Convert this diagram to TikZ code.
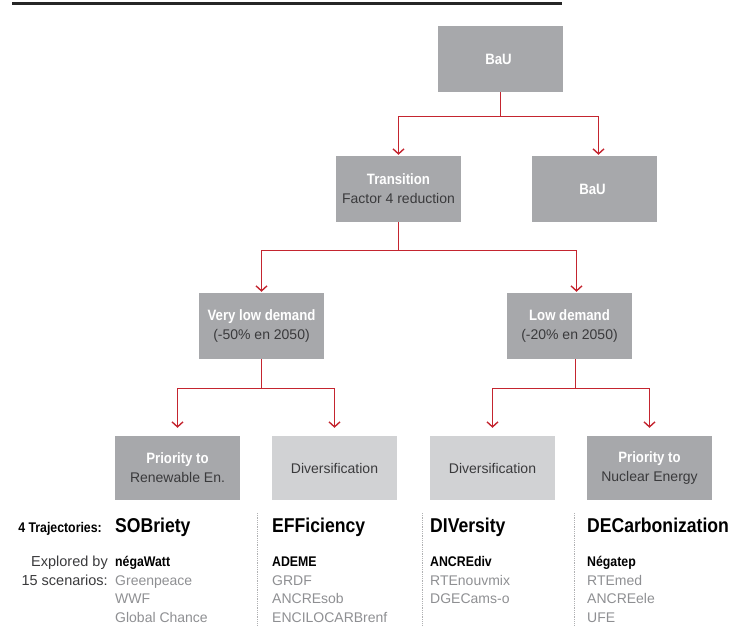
\documentclass[tikz,border=0pt]{standalone}
\usepackage{fontspec}
\setmainfont{Liberation Sans}[BoldFeatures={FakeStretch=0.88}]
\usetikzlibrary{arrows.meta}

\definecolor{boxDark}{HTML}{A7A8AB}
\definecolor{boxLight}{HTML}{D1D2D4}
\definecolor{arrowRed}{HTML}{C4252F}
\definecolor{textDark}{HTML}{3A3A3C}
\definecolor{textGray}{HTML}{8E8F92}

\newcommand{\boxTitle}[1]
{
    {\fontsize{15}{19}\selectfont\bfseries\color{white}#1}
}
\newcommand{\boxLabel}[2]
{
    \boxTitle{#1}\\{\color{textDark}#2}
}

\tikzset{
    stateBox/.style={minimum width=125pt, minimum height=66pt, inner sep=0pt,
        fill=boxDark, align=center, font=\fontsize{14}{19}\selectfont},
    leafBox/.style={stateBox, minimum height=64pt},
    conn/.style={draw=arrowRed, line width=1.4pt,
        -{Straight Barb[length=5pt,width=11pt]}},
    trajTitle/.style={anchor=base west, inner sep=0pt,
        font=\fontsize{20}{20}\selectfont\bfseries},
    scenBold/.style={anchor=base west, inner sep=0pt,
        font=\fontsize{14}{14}\selectfont\bfseries},
    scenGray/.style={anchor=base west, inner sep=0pt, text=textGray,
        font=\fontsize{14}{14}\selectfont},
    sideLabel/.style={anchor=base east, inner sep=0pt, text=textDark,
        font=\fontsize{14.5}{14.5}\selectfont}
}

\begin{document}
\begin{tikzpicture}[x=1pt, y=-1pt]

    \useasboundingbox (0,0) rectangle (750,625);

    %draws top rule
    \draw[line width=3pt, black!85] (12,3) -- (562,3);

    %draws boxes of the tree
    \node[stateBox] (bau) at (500.5,59) {\boxTitle{BaU}};
    \node[stateBox] (trans) at (398.5,189) {\boxLabel{Transition}{Factor 4 reduction}};
    \node[stateBox] (bauR) at (594.5,189) {\boxTitle{BaU}};
    \node[stateBox] (vlow) at (261.5,326) {\boxLabel{Very low demand}{(-50\% en 2050)}};
    \node[stateBox] (low) at (569.5,326) {\boxLabel{Low demand}{(-20\% en 2050)}};

    \node[leafBox] (prioRen) at (177.5,468) {\boxLabel{Priority to}{Renewable En.}};
    \node[leafBox, fill=boxLight, text=textDark] (divA) at (334.5,468) {Diversification};
    \node[leafBox, fill=boxLight, text=textDark] (divB) at (492.5,468) {Diversification};
    \node[leafBox] (prioNuc) at (649.5,468) {\boxLabel{Priority to}{Nuclear Energy}};

    %draws connectors
    \draw[conn, shorten >=1pt] (bau.south) -- ++(0,24) -| (trans.north);
    \draw[conn, shorten >=1pt] (bau.south) -- ++(0,24) -| ([xshift=4pt]bauR.north);
    \draw[conn, shorten >=1pt] (trans.south) -- ++(0,28) -| (vlow.north);
    \draw[conn, shorten >=1pt] (trans.south) -- ++(0,28) -| ([xshift=7pt]low.north);
    \draw[conn, shorten >=8pt] (vlow.south) -- ++(0,29) -| (prioRen.north);
    \draw[conn, shorten >=8pt] (vlow.south) -- ++(0,29) -| (divA.north);
    \draw[conn, shorten >=8pt] ([xshift=6pt]low.south) -- ++(0,29) -| (divB.north);
    \draw[conn, shorten >=8pt] ([xshift=6pt]low.south) -- ++(0,29) -| (prioNuc.north);

    %draws column separators
    \foreach \sx in {257,422,574}
        \draw[textGray!70, densely dotted, line width=0.8pt] (\sx,513) -- (\sx,625);

    %draws trajectories
    \node[anchor=base east, inner sep=0pt, font=\fontsize{14}{14}\selectfont\bfseries]
        (trajLabel) at (102,532) {4 Trajectories:};
    \node[trajTitle] (sob) at (115,532) {SOBriety};
    \node[trajTitle] (eff) at (272,532) {EFFiciency};
    \node[trajTitle] (div) at (430,532) {DIVersity};
    \node[trajTitle] (dec) at (587,532) {DECarbonization};

    %draws scenarios
    \node[sideLabel] (explA) at (108,566) {Explored by};
    \node[sideLabel] (explB) at (108,585) {15 scenarios:};

    \node[scenBold] (negaWatt) at (115,566) {négaWatt};
    \node[scenGray] (greenp) at (115,585) {Greenpeace};
    \node[scenGray] (wwf) at (115,603.5) {WWF};
    \node[scenGray] (globCh) at (115,622) {Global Chance};

    \node[scenBold] (ademe) at (272,566) {ADEME};
    \node[scenGray] (grdf) at (272,585) {GRDF};
    \node[scenGray] (ancreSob) at (272,603.5) {ANCREsob};
    \node[scenGray] (encilo) at (272,622) {ENCILOCARBrenf};

    \node[scenBold] (ancreDiv) at (430,566) {ANCREdiv};
    \node[scenGray] (rteNouv) at (430,585) {RTEnouvmix};
    \node[scenGray] (dgec) at (430,603.5) {DGECams-o};

    \node[scenBold] (negatep) at (587,566) {Négatep};
    \node[scenGray] (rteMed) at (587,585) {RTEmed};
    \node[scenGray] (ancreEle) at (587,603.5) {ANCREele};
    \node[scenGray] (ufe) at (587,622) {UFE};

\end{tikzpicture}
\end{document}
